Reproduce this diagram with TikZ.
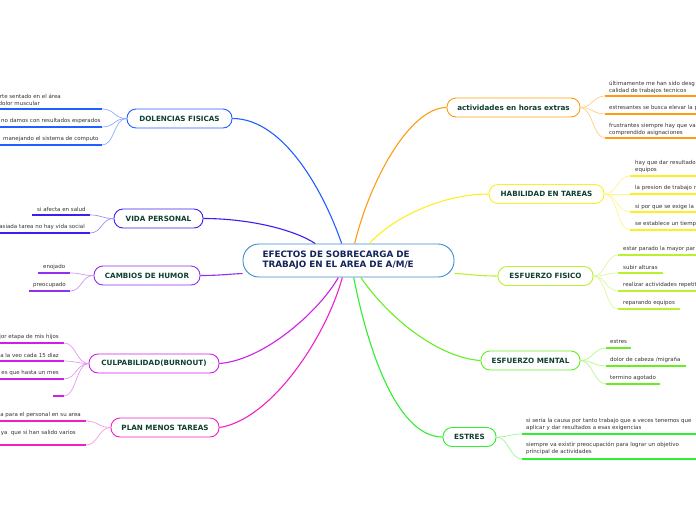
\documentclass[tikz,border=0pt]{standalone}
\usepackage{fontspec}
\setmainfont{DejaVu Sans}
\definecolor{cblue}{HTML}{2060FF}\definecolor{cbluel}{HTML}{8EAAFF}
\definecolor{cind}{HTML}{3A20EE}\definecolor{cindl}{HTML}{A090F5}
\definecolor{cpur}{HTML}{9030F0}\definecolor{cpurl}{HTML}{C79AF6}
\definecolor{cmag}{HTML}{CC20E8}\definecolor{cmagl}{HTML}{E59BF2}
\definecolor{cpin}{HTML}{F020C8}\definecolor{cpinl}{HTML}{F79BE2}
\definecolor{cora}{HTML}{FF9C10}\definecolor{coral}{HTML}{FFCF88}
\definecolor{cyel}{HTML}{FFEE20}\definecolor{cyell}{HTML}{FFF590}
\definecolor{cyg}{HTML}{BBF030}\definecolor{cygl}{HTML}{DDF798}
\definecolor{cgr}{HTML}{66EE22}\definecolor{cgrl}{HTML}{B2F690}
\definecolor{cgt}{HTML}{30EE30}\definecolor{cgtl}{HTML}{98F698}
\definecolor{cenb}{HTML}{3A8CCC}
\definecolor{ctxt}{HTML}{14245A}
\definecolor{mtxt}{HTML}{0F3F2F}
\definecolor{stxt}{HTML}{333333}
\begin{document}
\begin{tikzpicture}[x=1pt,y=-1pt,
  mainbox/.style={draw, fill=white, rounded corners=9pt, line width=0.9pt,
    font=\fontsize{7.2}{8}\selectfont\bfseries, text=mtxt, inner sep=0pt, minimum height=19pt},
  subtxt/.style={font=\fontsize{5.5}{7}\selectfont, text=stxt, inner sep=0pt, align=left},
  ul/.style={line width=1.8pt},
  conn/.style={line width=1.1pt},
  twig/.style={line width=0.7pt}]
\useasboundingbox (0,0) rectangle (696,520);
\clip (0,0) rectangle (696,520);

% central node
\node[draw=cenb, fill=white, rounded corners=16pt, line width=0.9pt, minimum width=211pt,
  minimum height=33pt, text width=172pt, align=left, inner sep=0pt,
  font=\fontsize{8.8}{10}\selectfont\bfseries, text=ctxt] (c) at (348.5,260.5)
  {EFECTOS DE SOBRECARGA DE\\TRABAJO EN EL AREA DE A/M/E};

% main nodes
\node[mainbox, draw=cblue, minimum width=105pt] (dol) at (179.5,118.5) {DOLENCIAS FISICAS};
\node[mainbox, draw=cind, minimum width=89pt] (vid) at (158.5,218.5) {VIDA PERSONAL};
\node[mainbox, draw=cpur, minimum width=106pt] (cam) at (147,275.5) {CAMBIOS DE HUMOR};
\node[mainbox, draw=cmag, minimum width=130pt] (cul) at (154,363.5) {CULPABILIDAD(BURNOUT)};
\node[mainbox, draw=cpin, minimum width=108pt] (pla) at (165,427.5) {PLAN MENOS TAREAS};
\node[mainbox, draw=cora, minimum width=133pt] (act) at (513.5,107.5) {actividades en horas extras};
\node[mainbox, draw=cyel, minimum width=115pt] (hab) at (546.5,194) {HABILIDAD EN TAREAS};
\node[mainbox, draw=cyg, minimum width=95pt] (fis) at (545.5,276) {ESFUERZO FISICO};
\node[mainbox, draw=cgr, minimum width=99pt] (men) at (530.5,360.5) {ESFUERZO MENTAL};
\node[mainbox, draw=cgt, minimum width=53pt] (est) at (469.5,437) {ESTRES};

% main connectors
\draw[conn, cblue] (dol.east) .. controls (285,118.5) and (325,195) .. (c.112);
\draw[conn, cind] (vid.east) .. controls (250,218.5) and (295,230) .. (c.153);
\draw[conn, cpur] (cam.east) .. controls (220,275.5) and (230,274) .. (c.187);
\draw[conn, cmag] (cul.east) .. controls (265,360) and (320,310) .. (c.239);
\draw[conn, cpin] (pla.east) .. controls (270,420) and (325,340) .. (c.250);
\draw[conn, cora] (act.west) .. controls (410,107.5) and (370,180) .. (c.70);
\draw[conn, cyel] (hab.west) .. controls (440,194) and (390,220) .. (c.39.5);
\draw[conn, cyg] (fis.west) .. controls (476,276) and (470,274) .. (c.-7);
\draw[conn, cgr] (c.-54) .. controls (390,320) and (440,358) .. (men.west);
\draw[conn, cgt] (c.-73) .. controls (370,360) and (400,437) .. (est.west);

% ---- DOLENCIAS FISICAS
\coordinate (d1a) at (0,109); \coordinate (d1b) at (102,109);
\coordinate (d2a) at (0,127); \coordinate (d2b) at (102,127);
\coordinate (d3a) at (0,145); \coordinate (d3b) at (102,145);
\foreach \i in {1,2,3} {\draw[ul,cblue] (d\i a) -- (d\i b);
  \draw[twig,cbluel] (dol.west) .. controls +(-13,0) and +(13,0) .. (d\i b);}
\node[subtxt, anchor=east] (d1t) at (61,96) {rte sentado en el área};
\node[subtxt, anchor=east] (d1u) at (40,103) {dolor muscular};
\node[subtxt, anchor=west] (d2t) at (1,121) {no damos con resultados esperados};
\node[subtxt, anchor=west] (d3t) at (3,138.5) {manejando el sistema de computo};

% ---- VIDA PERSONAL
\coordinate (v1a) at (32,215); \coordinate (v1b) at (90,215);
\coordinate (v2a) at (0,233); \coordinate (v2b) at (90,233);
\foreach \i in {1,2} {\draw[ul,cind] (v\i a) -- (v\i b);
  \draw[twig,cindl] (vid.west) .. controls +(-12,0) and +(12,0) .. (v\i b);}
\node[subtxt, anchor=west] (v1t) at (37,209) {si afecta en salud};
\node[subtxt, anchor=east] (v2t) at (85,227) {asiada tarea no hay vida social};

% ---- CAMBIOS DE HUMOR
\coordinate (h1a) at (38,273); \coordinate (h1b) at (70,273);
\coordinate (h2a) at (29,291); \coordinate (h2b) at (70,291);
\foreach \i in {1,2} {\draw[ul,cpur] (h\i a) -- (h\i b);
  \draw[twig,cpurl] (cam.west) .. controls +(-12,0) and +(12,0) .. (h\i b);}
\node[subtxt, anchor=west] (h1t) at (43,267) {enojado};
\node[subtxt, anchor=west] (h2t) at (33,285) {preocupado};

% ---- CULPABILIDAD
\coordinate (u1a) at (0,343); \coordinate (u1b) at (64,343);
\coordinate (u2a) at (0,361); \coordinate (u2b) at (64,361);
\coordinate (u3a) at (0,379); \coordinate (u3b) at (64,379);
\coordinate (u4a) at (53,396); \coordinate (u4b) at (64,396);
\foreach \i in {1,2,3,4} {\draw[ul,cmag] (u\i a) -- (u\i b);
  \draw[twig,cmagl] (cul.west) .. controls +(-12,0) and +(12,0) .. (u\i b);}
\node[subtxt, anchor=east] (u1t) at (59,337) {jor etapa de mis hijos};
\node[subtxt, anchor=east] (u2t) at (59,355) {a la veo cada 15 diaz};
\node[subtxt, anchor=east] (u3t) at (59,373) {es que hasta un mes};

% ---- PLAN MENOS TAREAS
\coordinate (p1a) at (0,421); \coordinate (p1b) at (86,421);
\coordinate (p2a) at (0,445); \coordinate (p2b) at (86,445);
\foreach \i in {1,2} {\draw[ul,cpin] (p\i a) -- (p\i b);
  \draw[twig,cpinl] (pla.west) .. controls +(-12,0) and +(12,0) .. (p\i b);}
\node[subtxt, anchor=east] (p1t) at (81,415) {la para el personal en su area};
\node[subtxt, anchor=east] (p2t) at (76,433) {ya\ \ que si han salido varios};

% ---- actividades en horas extras
\coordinate (a1a) at (605,96); \coordinate (a1b) at (696,96);
\coordinate (a2a) at (605,114); \coordinate (a2b) at (696,114);
\coordinate (a3a) at (605,138); \coordinate (a3b) at (696,138);
\foreach \i in {1,2,3} {\draw[ul,cora] (a\i a) -- (a\i b);
  \draw[twig,coral] (act.east) .. controls +(12,0) and +(-12,0) .. (a\i a);}
\node[subtxt, anchor=west] (a1t) at (609,87.3) {últimamente me han sido desg\\calidad de trabajos tecnicos};
\node[subtxt, anchor=west] (a2t) at (609,108) {estresantes se busca elevar la p};
\node[subtxt, anchor=west] (a3t) at (609,129.3) {frustrantes siempre hay que va\\comprendido asignaciones};

% ---- HABILIDAD EN TAREAS
\coordinate (b1a) at (630,176); \coordinate (b1b) at (696,176);
\coordinate (b2a) at (630,194); \coordinate (b2b) at (696,194);
\coordinate (b3a) at (630,212); \coordinate (b3b) at (696,212);
\coordinate (b4a) at (630,230); \coordinate (b4b) at (696,230);
\foreach \i in {1,2,3,4} {\draw[ul,cyel] (b\i a) -- (b\i b);
  \draw[twig,cyell] (hab.east) .. controls +(13,0) and +(-13,0) .. (b\i a);}
\node[subtxt, anchor=west] (b1t) at (635,166) {hay que dar resultado\\equipos};
\node[subtxt, anchor=west] (b2t) at (635,188) {la presion de trabajo n};
\node[subtxt, anchor=west] (b3t) at (635,206.5) {si por que se exige la};
\node[subtxt, anchor=west] (b4t) at (635,224) {se establece un tiemp};

% ---- ESFUERZO FISICO
\coordinate (f1a) at (618,255); \coordinate (f1b) at (696,255);
\coordinate (f2a) at (618,273); \coordinate (f2b) at (663,273);
\coordinate (f3a) at (618,291); \coordinate (f3b) at (696,291);
\coordinate (f4a) at (618,309); \coordinate (f4b) at (680,309);
\foreach \i in {1,2,3,4} {\draw[ul,cyg] (f\i a) -- (f\i b);
  \draw[twig,cygl] (fis.east) .. controls +(12,0) and +(-12,0) .. (f\i a);}
\node[subtxt, anchor=west] (f1t) at (623,249) {estar parado la mayor par};
\node[subtxt, anchor=west] (f2t) at (623,267) {subir alturas};
\node[subtxt, anchor=west] (f3t) at (623,285) {realizar actividades repetiti};
\node[subtxt, anchor=west] (f4t) at (623,303) {reparando equipos};

% ---- ESFUERZO MENTAL
\coordinate (m1a) at (606,348); \coordinate (m1b) at (631,348);
\coordinate (m2a) at (606,366); \coordinate (m2b) at (686,366);
\coordinate (m3a) at (606,384); \coordinate (m3b) at (660,384);
\foreach \i in {1,2,3} {\draw[ul,cgr] (m\i a) -- (m\i b);
  \draw[twig,cgrl] (men.east) .. controls +(12,0) and +(-12,0) .. (m\i a);}
\node[subtxt, anchor=west] (m1t) at (610,342) {estres};
\node[subtxt, anchor=west] (m2t) at (610,360) {dolor de cabeza /migraña};
\node[subtxt, anchor=west] (m3t) at (610,378) {termino agotado};

% ---- ESTRES
\coordinate (e1a) at (522,434); \coordinate (e1b) at (696,434);
\coordinate (e2a) at (522,459); \coordinate (e2b) at (696,459);
\foreach \i in {1,2} {\draw[ul,cgt] (e\i a) -- (e\i b);
  \draw[twig,cgtl] (est.east) .. controls +(12,0) and +(-12,0) .. (e\i a);}
\node[subtxt, anchor=west] (e1t) at (526,424.5) {si seria la causa por tanto trabajo que a veces tenemos que\\aplicar y dar resultados a esas exigencias};
\node[subtxt, anchor=west] (e2t) at (526,448.5) {siempre va existir preocupación para lograr un objetivo\\principal de actividades};
\end{tikzpicture}
\end{document}
